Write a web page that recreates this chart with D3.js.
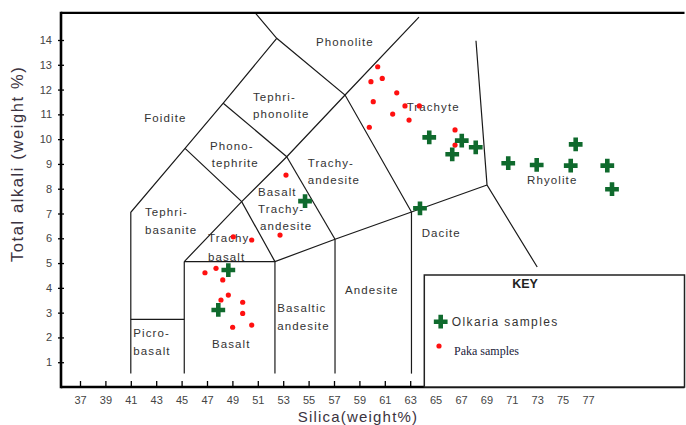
<!DOCTYPE html>
<html><head><meta charset="utf-8">
<script src="https://cdn.jsdelivr.net/npm/d3@7"></script>
<style>
body{margin:0;background:#fff;}
svg{display:block;font-family:Arial,"Liberation Sans",sans-serif;}
</style></head>
<body><svg id="c" width="686" height="425"></svg>
<script>
// ---------- data ----------
const xTicks = [37,39,41,43,45,47,49,51,53,55,57,59,61,63,65,67,69,71,73,75,77];
const yTicks = [1,2,3,4,5,6,7,8,9,10,11,12,13,14];

// TAS field boundaries [silica, total alkali]
const foiditeLine   = [[41,0.54],[41,7.05],[45.27,9.63],[48.28,11.45],[52.49,14.07]];
const phonoliteLeft = [[50.78,15.1],[52.49,14.07],[57.87,11.78],[63.1,7.06]];
const phonoliteRight= [[45.21,5.06],[49.73,7.48],[53.28,9.29],[57.87,11.78],[63.69,14.92]];
const tephriphonoLine = [[48.28,11.45],[53.28,9.29]];
const trachyandesiteLine = [[53.28,9.29],[57.08,5.96]];
const phonotephLine = [[45.27,9.63],[49.73,7.48],[52.35,5.06]];
const basaltTop     = [[45.21,5.06],[52.35,5.06],[57.08,5.96],[63.1,7.06],[69.05,8.15]];
const picroTop      = [[41,2.73],[45.21,2.73]];
const vert45        = [[45.21,0.54],[45.21,5.06]];
const vert52        = [[52.35,0.54],[52.35,5.06]];
const vert57        = [[57.08,0.54],[57.08,5.96]];
const vert63        = [[63.1,0.54],[63.1,7.06]];
const rhyoliteLine  = [[68.18,13.97],[69.05,8.15],[73.0,4.84]];
const boundaries = [foiditeLine, phonoliteLeft, phonoliteRight, tephriphonoLine, trachyandesiteLine,
  phonotephLine, basaltTop, picroTop, vert45, vert52, vert57, vert63, rhyoliteLine];

// sample series
const olkariaSilica = [64.50,67.06,68.16,66.31,70.72,72.96,75.64,78.52,76.03,78.89,63.77,54.72,48.68,47.89];
const olkariaAlkali = [10.07,9.94,9.67,9.39,9.03,8.96,8.93,8.93,9.79,7.98,7.21,7.50,4.72,3.11];
const pakaSilica = [60.44,60.80,59.91,61.94,60.09,62.59,63.72,61.62,62.91,59.78,66.53,66.53,53.22,52.75,49.07,50.52,46.84,47.71,48.24,48.68,48.10,49.81,49.81,50.52,49.02];
const pakaAlkali = [12.92,12.45,12.32,11.87,11.51,11.34,11.34,11.01,10.77,10.48,10.37,9.76,8.55,6.13,6.06,5.93,4.61,4.79,4.32,3.71,3.51,3.42,2.97,2.50,2.41];

// field names (lines of text) and their anchor in data units
const fieldNames = ["Phonolite","Foidite","Tephri-","phonolite","Phono-","tephrite","Trachy-","andesite",
  "Basalt","Trachy-","andesite","Tephri-","basanite","Trachy-","basalt","Trachyte","Rhyolite","Dacite",
  "Andesite","Basaltic","andesite","Picro-","basalt","Basalt"];
const fieldSilica = [55.58,42.06,50.62,50.62,47.24,47.37,54.93,54.93,51.02,51.02,51.17,42.12,42.12,47.08,47.08,62.72,72.2,63.9,57.87,52.54,52.54,41.2,41.2,47.39];
const fieldAlkali = [13.74,10.71,11.54,10.87,9.58,8.88,8.88,8.19,7.71,7.04,6.35,6.88,6.19,5.83,5.08,11.14,8.19,6.05,3.75,3.01,2.30,2.0,1.29,1.57];

// ---------- chart ----------
const svg = d3.select("#c");
const x = d3.scaleLinear().domain([37,77]).range([80,588]);
const y = d3.scaleLinear().domain([0,14]).range([387,40]);
const xMin = x.invert(61), xMax = x.invert(684.5), yMax = y.invert(12.8);

const line = d3.line().x(d=>x(d[0])).y(d=>y(d[1]));
svg.append("g").selectAll("path").data(boundaries).join("path")
  .attr("d", line).attr("fill","none").attr("stroke","#1a1a1a").attr("stroke-width",1.2);

// field labels
svg.append("g").selectAll("text").data(fieldNames).join("text")
  .attr("x",(d,i)=>x(fieldSilica[i])).attr("y",(d,i)=>y(fieldAlkali[i]))
  .attr("font-size",11.5).attr("letter-spacing",1.1).attr("fill","#333").text(d=>d);

// frame
svg.append("line").attr("x1",x(xMin)).attr("x2",x(xMax)).attr("y1",y(yMax)).attr("y2",y(yMax))
  .attr("stroke","#000").attr("stroke-width",2.2);

// axes
const xAxis = svg.append("g").attr("transform",`translate(0,${y(0)})`)
  .call(d3.axisBottom(x).tickValues(xTicks).tickSize(-6).tickPadding(9).tickFormat(d3.format("d")));
xAxis.select(".domain").remove();
xAxis.selectAll(".tick line").attr("stroke","#000").attr("stroke-width",1.3);
xAxis.selectAll(".tick text").attr("font-size",11).attr("fill","#444").attr("font-family","Arial");
svg.append("line").attr("x1",x(xMin)).attr("x2",x(xMax)).attr("y1",y(0)).attr("y2",y(0))
  .attr("stroke","#000").attr("stroke-width",2.4);

const yAxis = svg.append("g").attr("transform",`translate(${x(xMin)},0)`)
  .call(d3.axisLeft(y).tickValues(yTicks).tickSize(3).tickPadding(6).tickFormat(d3.format("d")));
yAxis.select(".domain").remove();
yAxis.selectAll(".tick line").attr("x2",3).attr("x1",-3).attr("stroke","#000").attr("stroke-width",1.3);
yAxis.selectAll(".tick text").attr("font-size",11).attr("fill","#444").attr("font-family","Arial");
svg.append("line").attr("x1",x(xMin)).attr("x2",x(xMin)).attr("y1",y(yMax)-1).attr("y2",y(0)+1.2)
  .attr("stroke","#000").attr("stroke-width",2.6);

// axis titles
svg.append("text").attr("transform",`translate(23,${y(9.0)}) rotate(-90)`).attr("text-anchor","middle")
  .attr("font-size",16.5).attr("letter-spacing",1.6).attr("fill","#3b3340").text("Total alkali (weight %)");
svg.append("text").attr("x",358).attr("y",422).attr("text-anchor","middle")
  .attr("font-size",15).attr("letter-spacing",1.2).attr("fill","#3b3340").text("Silica(weight%)");

// legend box
svg.append("rect").attr("x",424.3).attr("y",275).attr("width",684.5-424.3).attr("height",y(0)-275)
  .attr("fill","#fff").attr("stroke","#222").attr("stroke-width",1.5);
svg.append("text").attr("x",525).attr("y",287.5).attr("text-anchor","middle").attr("font-weight","bold")
  .attr("font-size",12.5).attr("fill","#222").text("KEY");

const plus = d3.symbol().type(d3.symbolCross).size(105);
const green = "#0f6a2d", red = "#ff1010";

// samples
svg.append("g").selectAll("circle").data(pakaSilica).join("circle")
  .attr("cx",d=>x(d)).attr("cy",(d,i)=>y(pakaAlkali[i])).attr("r",2.6).attr("fill",red);
svg.append("g").selectAll("path").data(olkariaSilica).join("path")
  .attr("transform",(d,i)=>`translate(${x(d)},${y(olkariaAlkali[i])})`).attr("d",plus).attr("fill",green);

// legend items
svg.append("path").attr("transform","translate(440.7,321.7)").attr("d",plus).attr("fill",green);
svg.append("text").attr("x",451.7).attr("y",326).attr("font-size",12).attr("letter-spacing",1.4)
  .attr("fill","#333").text("Olkaria samples");
svg.append("circle").attr("cx",439).attr("cy",346).attr("r",2.6).attr("fill",red);
svg.append("text").attr("x",454).attr("y",354.5).attr("font-size",12).attr("font-family","'Liberation Serif',serif")
  .attr("fill","#1a1a3a").text("Paka samples");
</script></body></html>
